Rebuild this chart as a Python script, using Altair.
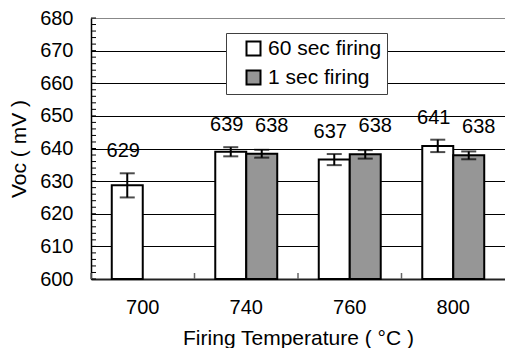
import altair as alt
import pandas as pd

temps = ["700", "740", "760", "800"]
series = ["60 sec firing", "1 sec firing"]

values_60 = [628.7, 639.0, 636.6, 640.8]
err_60 = [3.7, 1.4, 1.7, 1.9]
labels_60 = ["629", "639", "637", "641"]

values_1 = [None, 638.4, 638.2, 637.9]
err_1 = [None, 1.2, 1.3, 1.2]
labels_1 = [None, "638", "638", "638"]

y_min, y_max = 600, 680
y_ticks = list(range(600, 681, 10))
y_minor = list(range(600, 681, 2))

rows = []
for name, vals, errs, labs in [(series[0], values_60, err_60, labels_60),
                               (series[1], values_1, err_1, labels_1)]:
    for t, v, e, l in zip(temps, vals, errs, labs):
        if v is None:
            continue
        rows.append({"temp": t, "series": name, "value": v,
                     "lo": v - e, "hi": v + e, "label": l})
df = pd.DataFrame(rows)
minor_df = pd.DataFrame({"v": y_minor})
temp_df = pd.DataFrame({"temp": temps})

FONT = "Liberation Sans"
W, H = 414, 261

xscale = alt.Scale(domain=temps, paddingInner=0, paddingOuter=0)
oscale = alt.Scale(domain=series, paddingInner=0, paddingOuter=0.67)
yscale = alt.Scale(domain=[y_min, y_max], nice=False, zero=False)

X_AXIS = alt.Axis(orient="bottom", title="Firing Temperature ( °C )",
                  labelAngle=0, ticks=False, tickSize=0, labelPadding=18,
                  labelFontSize=20, titleFontSize=21, titleFontWeight="normal",
                  titlePadding=10, domainColor="#222222", domainWidth=2,
                  grid=False, labelFont=FONT, titleFont=FONT,
                  labelColor="black", titleColor="black")
Y_AXIS = alt.Axis(orient="left", title="Voc ( mV )", values=y_ticks,
                  ticks=False, tickSize=0, labelPadding=18,
                  labelFontSize=20, titleFontSize=21, titleFontWeight="normal",
                  titlePadding=10, domainColor="black", domainWidth=1.5,
                  grid=True, gridWidth=1,
                  gridColor={"condition": {"test": "datum.value == 680", "value": "#888888"},
                             "value": "black"},
                  labelFont=FONT, titleFont=FONT,
                  labelColor="black", titleColor="black")

xoff = alt.XOffset("series:N", sort=series, scale=oscale)

def xenc(**kw):
    return alt.X("temp:N", sort=temps, scale=xscale, axis=X_AXIS, title="Firing Temperature ( °C )", **kw)

def yenc(field):
    return alt.Y(field, scale=yscale, axis=Y_AXIS, title="Voc ( mV )")

base = alt.Chart(df)

bars = base.mark_bar(stroke="black", strokeWidth=2).encode(
    x=xenc(),
    xOffset=xoff,
    y=yenc("value:Q"),
    y2=alt.datum(y_min),
    fill=alt.Fill("series:N", sort=series,
                  scale=alt.Scale(domain=series, range=["white", "#969696"]),
                  legend=alt.Legend(orient="none", legendX=135, legendY=15, title=None,
                                    fillColor="white", strokeColor="#404040",
                                    padding=5, rowPadding=6, symbolType="square",
                                    symbolSize=196, symbolStrokeColor="black",
                                    symbolStrokeWidth=2, symbolOffset=12,
                                    labelFontSize=21, labelOffset=4, labelFont=FONT,
                                    labelColor="black")),
)

# inward minor ticks on the value axis
minor_ticks = alt.Chart(minor_df).mark_rule(color="black", strokeWidth=1).encode(
    y=yenc("v:Q"),
    x=alt.value(0), x2=alt.value(5),
)

# inward ticks between categories
cat_ticks = alt.Chart(temp_df).mark_rule(color="#666666", strokeWidth=1.5).encode(
    x=xenc(bandPosition=0),
    y=alt.value(H - 6), y2=alt.value(H),
)

err_rule = base.mark_rule(color="black", strokeWidth=2).encode(
    x=xenc(), xOffset=xoff,
    y=yenc("lo:Q"),
    y2="hi:Q",
)

cap_lo = base.mark_tick(color="black", thickness=2, size=15).encode(
    x=xenc(), xOffset=xoff,
    y=yenc("lo:Q"),
)
cap_hi = base.mark_tick(color="black", thickness=2, size=15).encode(
    x=xenc(), xOffset=xoff,
    y=yenc("hi:Q"),
)

def label_layer(name, dx, dy):
    return base.transform_filter(alt.datum.series == name).mark_text(
        font=FONT, fontSize=20, color="black", baseline="middle", dx=dx, dy=dy
    ).encode(
        x=xenc(), xOffset=xoff,
        y=yenc("hi:Q"),
        text="label:N",
    )

labels_a = label_layer(series[0], -4, -22)
labels_b = label_layer(series[1], 10, -24)

chart = alt.layer(bars, minor_ticks, cat_ticks, err_rule, cap_lo, cap_hi,
                  labels_a, labels_b).properties(
    width=W, height=H, padding=0, background="white"
).configure_view(stroke=None)

chart.save("out.html", embed_options={"renderer": "svg", "actions": False})
